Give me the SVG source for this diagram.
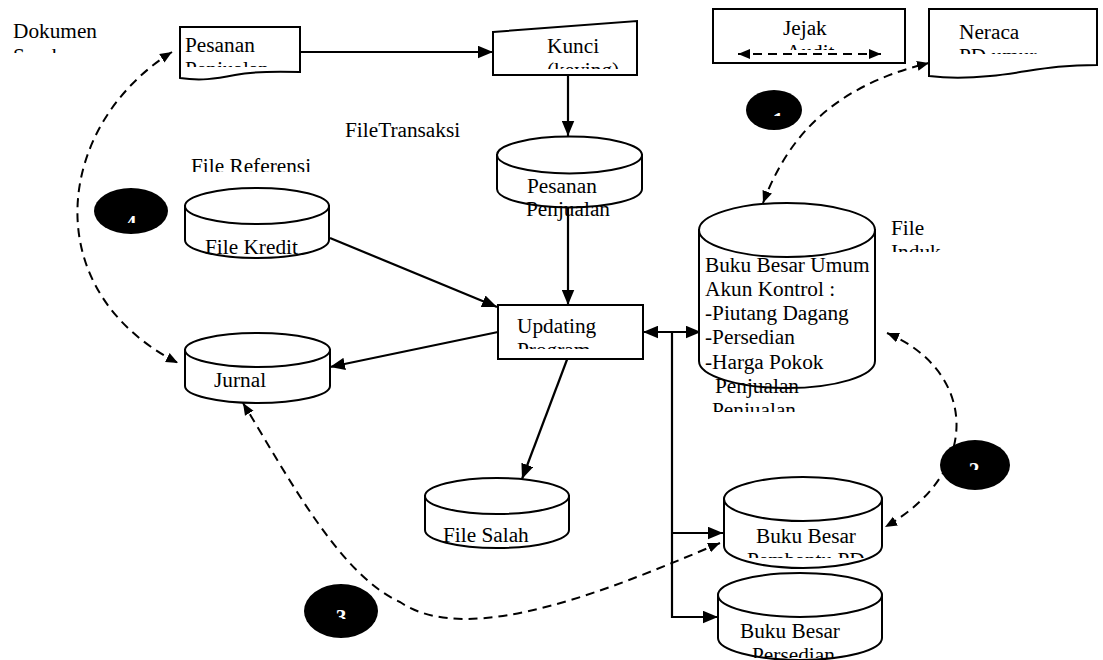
<svg xmlns="http://www.w3.org/2000/svg" width="1103" height="660" viewBox="0 0 1103 660">
<style>
.t{font-family:"Liberation Serif","Times New Roman",serif;font-size:21.3px;fill:#000}
.w{font-family:"Liberation Serif","Times New Roman",serif;font-size:21.3px;font-weight:bold;fill:#fff;text-anchor:middle}
.s{fill:#fff;stroke:#000;stroke-width:2}
.c{fill:none;stroke:#000;stroke-width:2.2}
.d{fill:none;stroke:#000;stroke-width:2;stroke-dasharray:9 6}
.b{fill:#000;stroke:none}
</style>
<defs>
<marker id="ah" viewBox="0 0 12 10" refX="12" refY="5" markerWidth="15" markerHeight="13" markerUnits="userSpaceOnUse" orient="auto-start-reverse"><path d="M0,0 L12,5 L0,10 z"/></marker>
<marker id="ad" viewBox="0 0 12 10" refX="12" refY="5" markerWidth="12" markerHeight="11" markerUnits="userSpaceOnUse" orient="auto-start-reverse"><path d="M0,0 L12,5 L0,10 z"/></marker>
<clipPath id="cSumber" clipPathUnits="userSpaceOnUse"><rect x="0" y="0" width="1103" height="53"/></clipPath>
<clipPath id="cDoc1" clipPathUnits="userSpaceOnUse"><rect x="0" y="0" width="1103" height="67"/></clipPath>
<clipPath id="cKunci" clipPathUnits="userSpaceOnUse"><rect x="0" y="0" width="1103" height="69"/></clipPath>
<clipPath id="cAudit" clipPathUnits="userSpaceOnUse"><rect x="0" y="0" width="1103" height="50"/></clipPath>
<clipPath id="cNeraca" clipPathUnits="userSpaceOnUse"><rect x="0" y="0" width="1103" height="54"/></clipPath>
<clipPath id="cRef" clipPathUnits="userSpaceOnUse"><rect x="0" y="0" width="1103" height="172"/></clipPath>
<clipPath id="cKredit" clipPathUnits="userSpaceOnUse"><rect x="0" y="0" width="1103" height="256"/></clipPath>
<clipPath id="cInduk" clipPathUnits="userSpaceOnUse"><rect x="0" y="0" width="1103" height="252"/></clipPath>
<clipPath id="cUpd" clipPathUnits="userSpaceOnUse"><rect x="0" y="0" width="1103" height="349"/></clipPath>
<clipPath id="cJurnal" clipPathUnits="userSpaceOnUse"><rect x="0" y="0" width="1103" height="387"/></clipPath>
<clipPath id="cPenj2" clipPathUnits="userSpaceOnUse"><rect x="0" y="0" width="1103" height="412"/></clipPath>
<clipPath id="cPemb" clipPathUnits="userSpaceOnUse"><rect x="0" y="0" width="1103" height="558"/></clipPath>
<clipPath id="cPers" clipPathUnits="userSpaceOnUse"><rect x="0" y="0" width="1103" height="658"/></clipPath>
<clipPath id="cN1" clipPathUnits="userSpaceOnUse"><rect x="0" y="0" width="1103" height="116"/></clipPath>
<clipPath id="cN2" clipPathUnits="userSpaceOnUse"><rect x="0" y="0" width="1103" height="470"/></clipPath>
<clipPath id="cN3" clipPathUnits="userSpaceOnUse"><rect x="0" y="0" width="1103" height="619"/></clipPath>
<clipPath id="cN4" clipPathUnits="userSpaceOnUse"><rect x="0" y="0" width="1103" height="223"/></clipPath>
</defs>
<rect width="1103" height="660" fill="#fff"/>

<g id="labels">
<text class="t" x="13" y="38">Dokumen</text>
<text class="t" x="13" y="63" clip-path="url(#cSumber)">Sumber</text>
<text class="t" x="345" y="137">FileTransaksi</text>
<text class="t" x="191" y="173" clip-path="url(#cRef)">File Referensi</text>
<text class="t" x="891" y="235">File</text>
<text class="t" x="891" y="259" clip-path="url(#cInduk)">Induk</text>
</g>

<g id="connectors">
<line class="c" x1="300" y1="52" x2="493" y2="52" marker-end="url(#ah)"/>
<line class="c" x1="568" y1="75" x2="568" y2="136" marker-end="url(#ah)"/>
<line class="c" x1="568" y1="207" x2="568" y2="305" marker-end="url(#ah)"/>
<line class="c" x1="330" y1="238" x2="497" y2="307" marker-end="url(#ah)"/>
<line class="c" x1="498" y1="332" x2="330" y2="367" marker-end="url(#ah)"/>
<line class="c" x1="568" y1="357" x2="522" y2="479" marker-end="url(#ah)"/>
<line class="c" x1="643" y1="332" x2="701" y2="332" marker-start="url(#ah)" marker-end="url(#ah)"/>
<polyline class="c" points="672,332 672,617 718,617" marker-end="url(#ah)"/>
<line class="c" x1="672" y1="533" x2="723" y2="533" marker-end="url(#ah)"/>
<path class="d" d="M763,203 C785,145 825,88 929,63" marker-start="url(#ad)" marker-end="url(#ad)"/>
<path class="d" d="M172,52 C55,125 35,290 178,363" marker-start="url(#ad)" marker-end="url(#ad)"/>
<path class="d" d="M887,333 C975,370 985,470 885,527" marker-start="url(#ad)" marker-end="url(#ad)"/>
<path class="d" d="M720,543 C620,585 470,650 400,602 C340,575 290,480 243,403" marker-start="url(#ad)" marker-end="url(#ad)"/>
</g>

<g id="pesanan-doc">
<path class="s" d="M180,27 H300 V72 C270,71 250,72 235,75 C215,79 200,81 180,78 Z"/>
<text class="t" x="185" y="52">Pesanan</text>
<text class="t" x="185" y="76" clip-path="url(#cDoc1)">Penjualan</text>
</g>

<g id="kunci">
<path class="s" d="M493,32 L637,21 L637,75 L493,75 Z"/>
<text class="t" x="547" y="53">Kunci</text>
<text class="t" x="547" y="77" clip-path="url(#cKunci)">(keying)</text>
</g>

<g id="jejak-audit">
<rect class="s" x="713" y="9" width="192" height="54"/>
<text class="t" x="783" y="35">Jejak</text>
<text class="t" x="786" y="59" clip-path="url(#cAudit)">Audit</text>
<line class="d" x1="738" y1="54" x2="881" y2="54" marker-start="url(#ad)" marker-end="url(#ad)"/>
</g>

<g id="neraca-doc">
<path class="s" d="M929,9 H1097 V65 C1050,65 1030,72 990,76 C960,79 945,78 929,76 Z"/>
<text class="t" x="959" y="39">Neraca</text>
<text class="t" x="959" y="63" clip-path="url(#cNeraca)">PD umur</text>
</g>

<g id="pesanan-cyl">
<path class="s" d="M497,155 V189 A72.5,18.5 0 0 0 642,189 V155 Z"/>
<ellipse class="s" cx="569.5" cy="155" rx="72.5" ry="18.5"/>
<text class="t" x="527" y="193">Pesanan</text>
<text class="t" x="526" y="216">Penjualan</text>
</g>

<g id="file-kredit">
<path class="s" d="M185,206 V240 A72,18 0 0 0 329,240 V206 Z"/>
<ellipse class="s" cx="257" cy="206" rx="72" ry="18"/>
<text class="t" x="205" y="254" clip-path="url(#cKredit)">File Kredit</text>
</g>

<g id="jurnal">
<path class="s" d="M185,350 V386 A72.5,17 0 0 0 330,386 V350 Z"/>
<ellipse class="s" cx="257.5" cy="350" rx="72.5" ry="17"/>
<text class="t" x="214" y="387" clip-path="url(#cJurnal)">Jurnal</text>
</g>

<g id="updating">
<rect class="s" x="498" y="305" width="145" height="54"/>
<text class="t" x="517" y="333">Updating</text>
<text class="t" x="517" y="357" clip-path="url(#cUpd)">Program</text>
</g>

<g id="file-salah">
<path class="s" d="M425,496 V530 A72,18 0 0 0 569,530 V496 Z"/>
<ellipse class="s" cx="497" cy="496" rx="72" ry="18"/>
<text class="t" x="443" y="542">File Salah</text>
</g>

<g id="buku-besar-umum">
<path class="s" d="M699,230 V361 A88,27 0 0 0 875,361 V230 Z"/>
<ellipse class="s" cx="787" cy="230" rx="88" ry="27"/>
<text class="t" x="705" y="272">Buku Besar Umum</text>
<text class="t" x="705" y="296">Akun Kontrol :</text>
<text class="t" x="705" y="320">-Piutang Dagang</text>
<text class="t" x="705" y="344">-Persedian</text>
<text class="t" x="705" y="369">-Harga Pokok</text>
<text class="t" x="715" y="393">Penjualan</text>
<text class="t" x="712" y="417" clip-path="url(#cPenj2)">Penjualan</text>
</g>

<g id="bb-pembantu">
<path class="s" d="M724,499 V546 A79,22 0 0 0 882,546 V499 Z"/>
<ellipse class="s" cx="803" cy="499" rx="79" ry="22"/>
<text class="t" x="756" y="543">Buku Besar</text>
<text class="t" x="747" y="567" clip-path="url(#cPemb)">Pembantu PD</text>
</g>

<g id="bb-persedian">
<path class="s" d="M718,595 V638 A82,22 0 0 0 882,638 V595 Z"/>
<ellipse class="s" cx="800" cy="595" rx="82" ry="22"/>
<text class="t" x="740" y="638">Buku Besar</text>
<text class="t" x="752" y="662" clip-path="url(#cPers)">Persedian</text>
</g>

<g id="badge-1">
<ellipse class="b" cx="774" cy="110" rx="28" ry="20"/>
<text class="w" x="778" y="127" clip-path="url(#cN1)">1</text>
</g>
<g id="badge-2">
<ellipse class="b" cx="975" cy="465" rx="35" ry="25"/>
<text class="w" x="974" y="477" clip-path="url(#cN2)">2</text>
</g>
<g id="badge-3">
<ellipse class="b" cx="341" cy="611" rx="37" ry="27"/>
<text class="w" x="341" y="624" clip-path="url(#cN3)">3</text>
</g>
<g id="badge-4">
<ellipse class="b" cx="131" cy="211" rx="37" ry="23"/>
<text class="w" x="131" y="230" clip-path="url(#cN4)">4</text>
</g>
</svg>
